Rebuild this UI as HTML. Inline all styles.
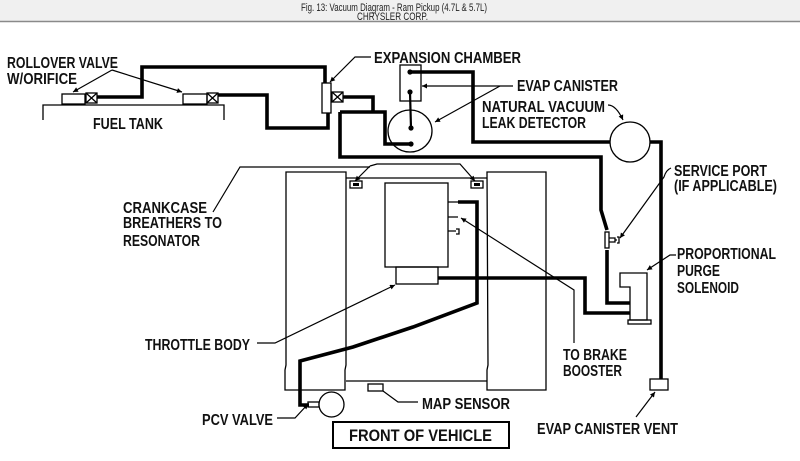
<!DOCTYPE html>
<html><head><meta charset="utf-8"><style>
html,body{margin:0;padding:0;background:#fff;}
svg{display:block;}
text{font-family:"Liberation Sans",Arial,sans-serif;}
.l{font-weight:bold;font-size:16px;fill:#111;}
</style></head><body>
<svg width="800" height="461" viewBox="0 0 800 461" xmlns="http://www.w3.org/2000/svg">
<defs>
<marker id="a" viewBox="0 0 10 10" refX="10" refY="5" markerWidth="7" markerHeight="5" markerUnits="userSpaceOnUse" orient="auto">
<path d="M0,0 L10,5 L0,10 Z" fill="#000"/>
</marker>
</defs>
<rect x="0" y="0" width="800" height="21" fill="#f0f0f0"/>
<line x1="0" y1="21.5" x2="800" y2="21.5" stroke="#8a8a8a" stroke-width="1.5"/>
<text x="301" y="11" font-size="11" textLength="186" lengthAdjust="spacingAndGlyphs" fill="#222">Fig. 13: Vacuum Diagram - Ram Pickup (4.7L &amp; 5.7L)</text>
<text x="357" y="20" font-size="11" textLength="71" lengthAdjust="spacingAndGlyphs" fill="#222">CHRYSLER CORP.</text>

<!-- thick vacuum lines -->
<g fill="none" stroke="#000" stroke-width="3.6" stroke-linejoin="miter">
<path d="M97,97 H142 V67 H325 V83"/>
<path d="M218,95 H267 V128 H328 V113"/>
<path d="M343,97 H373 V112"/>
<path d="M340,112 H385 V144 H411"/>
<path d="M340,112 V157 H601 V210 L607,230"/>
<path d="M410,72 H473 V142 H610"/>
<path d="M650,142 H661 V379"/>
<path d="M607,250 V303 H630"/>
<path d="M438,278 H585 V313 H630"/>
<path d="M458,202 H477 V303 L413,327 L353,347 L300,361 V405 H309"/>
</g>

<!-- thin components -->
<g fill="none" stroke="#000" stroke-width="1.3">
<rect x="62" y="94" width="23" height="10" fill="#fff"/>
<rect x="86" y="93" width="11" height="10"/>
<path d="M86,93 L97,103 M97,93 L86,103"/>
<rect x="183" y="94" width="24" height="10" fill="#fff"/>
<rect x="207" y="93" width="11" height="10"/>
<path d="M207,93 L218,103 M218,93 L207,103"/>
<path d="M43,120 V105 H224 V120"/>
<rect x="322" y="83" width="9" height="30" fill="#fff"/>
<rect x="332" y="92" width="11" height="10"/>
<path d="M332,92 L343,102 M343,92 L332,102"/>
<rect x="400" y="65" width="21" height="36"/>
<ellipse cx="410" cy="131" rx="22" ry="21"/>
<circle cx="630" cy="142" r="20" fill="#fff"/>
<rect x="605" y="232" width="4" height="16" fill="#fff"/>
<path d="M609,238 H615 V242 H609 M615,240 H617 M617,237 H619 V243 H617"/>
<path d="M620,273 H647 V320 H630 V287 H620 Z" fill="#fff"/>
<rect x="628" y="320" width="23" height="4"/>
<rect x="650" y="379" width="18" height="11" fill="#fff"/>
<!-- engine -->
<path d="M286,172 H346 V365 L345,370 V390 H285 V370 L286,365 Z"/>
<path d="M487,172 H546 V390 H487 V370 L488,365 Z"/>
<path d="M346,178 H487"/>
<path d="M346,381 H487"/>
<rect x="350" y="181" width="12" height="7"/>
<rect x="471" y="181" width="12" height="7"/>
<rect x="385" y="183" width="63" height="84"/>
<rect x="396" y="267" width="42" height="17"/>
<path d="M448,202 H458 M448,217 H458 M448,231 H456 M456,229 H459 V234 H456"/>
<rect x="308" y="402" width="11" height="5"/>
<circle cx="331.5" cy="404.5" r="12.5" fill="#fff"/>
<rect x="368" y="384" width="15" height="7"/>
<rect x="333" y="422" width="176" height="26" stroke-width="2"/>
</g>
<!-- breather fills -->
<rect x="353" y="183" width="6" height="3" fill="#000"/>
<rect x="474" y="183" width="6" height="3" fill="#000"/>
<!-- canister dots -->
<g fill="#000">
<circle cx="410" cy="72" r="2.6"/>
<circle cx="410" cy="92" r="2.6"/>
<circle cx="411" cy="128" r="2.6"/>
<circle cx="411" cy="144" r="2.6"/>
</g>
<line x1="410" y1="92" x2="411" y2="128" stroke="#000" stroke-width="2.2"/>

<!-- leaders -->
<g fill="none" stroke="#000" stroke-width="1.2">
<path d="M112,70 L73,92" marker-end="url(#a)"/>
<path d="M112,70 L182,92" marker-end="url(#a)"/>
<path d="M371,57 H355 L330,82" marker-end="url(#a)"/>
<path d="M513,86 H422" marker-end="url(#a)"/>
<path d="M500,86 L435,122" marker-end="url(#a)"/>
<path d="M608,105 Q616,105 623,120" marker-end="url(#a)"/>
<path d="M213,212 L240,167 H370"/>
<path d="M370,166 L355,181" marker-end="url(#a)"/>
<path d="M370,166 L377,164 H460 L475,181" marker-end="url(#a)"/>
<path d="M257,343 H275 L395,285" marker-end="url(#a)"/>
<path d="M574,343 V290 L461,218" marker-end="url(#a)"/>
<path d="M671,168 Q666,170 664,177 L620,238" marker-end="url(#a)"/>
<path d="M676,255 H670 L647,270" marker-end="url(#a)"/>
<path d="M636,417 L655,392" marker-end="url(#a)"/>
<path d="M277,418 H295 L308,404" marker-end="url(#a)"/>
<path d="M418,402 H398 L383,391"/>
</g>

<!-- labels -->
<g class="l">
<text x="7" y="68" textLength="111" lengthAdjust="spacingAndGlyphs">ROLLOVER VALVE</text>
<text x="7" y="84" textLength="70" lengthAdjust="spacingAndGlyphs">W/ORIFICE</text>
<text x="93" y="129" textLength="70" lengthAdjust="spacingAndGlyphs">FUEL TANK</text>
<text x="374" y="63" textLength="147" lengthAdjust="spacingAndGlyphs">EXPANSION CHAMBER</text>
<text x="517" y="91" textLength="101" lengthAdjust="spacingAndGlyphs">EVAP CANISTER</text>
<text x="482" y="112" textLength="123" lengthAdjust="spacingAndGlyphs">NATURAL VACUUM</text>
<text x="482" y="128" textLength="104" lengthAdjust="spacingAndGlyphs">LEAK DETECTOR</text>
<text x="674" y="176" textLength="93" lengthAdjust="spacingAndGlyphs">SERVICE PORT</text>
<text x="674" y="191" textLength="103" lengthAdjust="spacingAndGlyphs">(IF APPLICABLE)</text>
<text x="123" y="213" textLength="84" lengthAdjust="spacingAndGlyphs">CRANKCASE</text>
<text x="123" y="228" textLength="99" lengthAdjust="spacingAndGlyphs">BREATHERS TO</text>
<text x="123" y="246" textLength="77" lengthAdjust="spacingAndGlyphs">RESONATOR</text>
<text x="677" y="259" textLength="99" lengthAdjust="spacingAndGlyphs">PROPORTIONAL</text>
<text x="677" y="276" textLength="43" lengthAdjust="spacingAndGlyphs">PURGE</text>
<text x="677" y="293" textLength="62" lengthAdjust="spacingAndGlyphs">SOLENOID</text>
<text x="145" y="350" textLength="105" lengthAdjust="spacingAndGlyphs">THROTTLE BODY</text>
<text x="563" y="360" textLength="64" lengthAdjust="spacingAndGlyphs">TO BRAKE</text>
<text x="563" y="376" textLength="59" lengthAdjust="spacingAndGlyphs">BOOSTER</text>
<text x="422" y="409" textLength="88" lengthAdjust="spacingAndGlyphs">MAP SENSOR</text>
<text x="202" y="425" textLength="71" lengthAdjust="spacingAndGlyphs">PCV VALVE</text>
<text x="537" y="434" textLength="141" lengthAdjust="spacingAndGlyphs">EVAP CANISTER VENT</text>
<text x="349" y="441" font-size="17" textLength="143" lengthAdjust="spacingAndGlyphs">FRONT OF VEHICLE</text>
</g>
</svg>
</body></html>
